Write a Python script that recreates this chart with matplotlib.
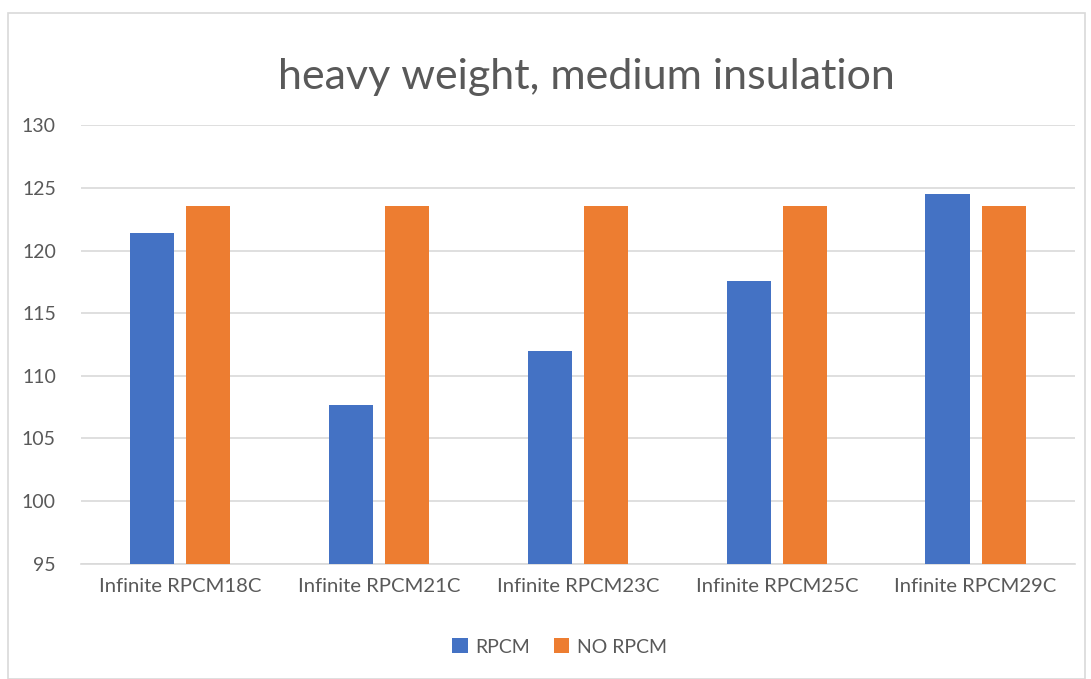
import matplotlib
matplotlib.use("Agg")
import matplotlib.pyplot as plt
import numpy as np
from matplotlib.patches import Rectangle

categories = ["Infinite RPCM18C", "Infinite RPCM21C", "Infinite RPCM23C",
              "Infinite RPCM25C", "Infinite RPCM29C"]
rpcm = [121.4, 107.7, 112.0, 117.6, 124.5]
no_rpcm = [123.6, 123.6, 123.6, 123.6, 123.6]
series_names = ["RPCM", "NO RPCM"]
title = "heavy weight, medium insulation"

plt.rcParams['font.family'] = ['Lato', 'DejaVu Sans']
grey = "#595959"

fig = plt.figure(figsize=(10.91, 6.79), dpi=100)
fig.patches.append(Rectangle((8/1091, 1 - 679/679), (1085-8)/1091, (679-13)/679,
                             transform=fig.transFigure, fill=False,
                             edgecolor="#d9d9d9", linewidth=1.2))
ax = fig.add_axes([0.0742, 0.1698, 0.9853 - 0.0742, 0.8152 - 0.1698])

x = np.arange(len(categories))
w = 0.222
gap = 0.06
ax.bar(x - (w + gap) / 2, rpcm, w, color="#4472c4", label=series_names[0], zorder=3)
ax.bar(x + (w + gap) / 2, no_rpcm, w, color="#ed7d31", label=series_names[1], zorder=3)

ax.set_ylim(95, 130)
ax.set_xlim(-0.5, len(categories) - 0.5)
ax.set_yticks(np.arange(95, 131, 5))
ax.set_xticks(x)
ax.set_xticklabels(categories, fontsize=14.6)
ax.yaxis.grid(True, color="#d9d9d9", linewidth=1.2, zorder=0)
for s in ["top", "right", "left"]:
    ax.spines[s].set_visible(False)
ax.spines["bottom"].set_color("#d9d9d9")
ax.spines["bottom"].set_linewidth(1.2)
ax.tick_params(axis="both", length=0, colors=grey, labelsize=14)
ax.tick_params(axis="y", pad=18)
ax.tick_params(axis="x", pad=10, labelsize=14.6)

fig.text(0.5376, 0.887, title, ha="center", va="center", fontsize=31, color=grey)

leg = fig.legend(loc="center", bbox_to_anchor=(0.513, 0.047), ncol=2, frameon=False,
                 fontsize=14, handlelength=0.8, handleheight=0.8, columnspacing=1.2,
                 handletextpad=0.4)
for t in leg.get_texts():
    t.set_color(grey)

fig.savefig("out.png", dpi=100)
